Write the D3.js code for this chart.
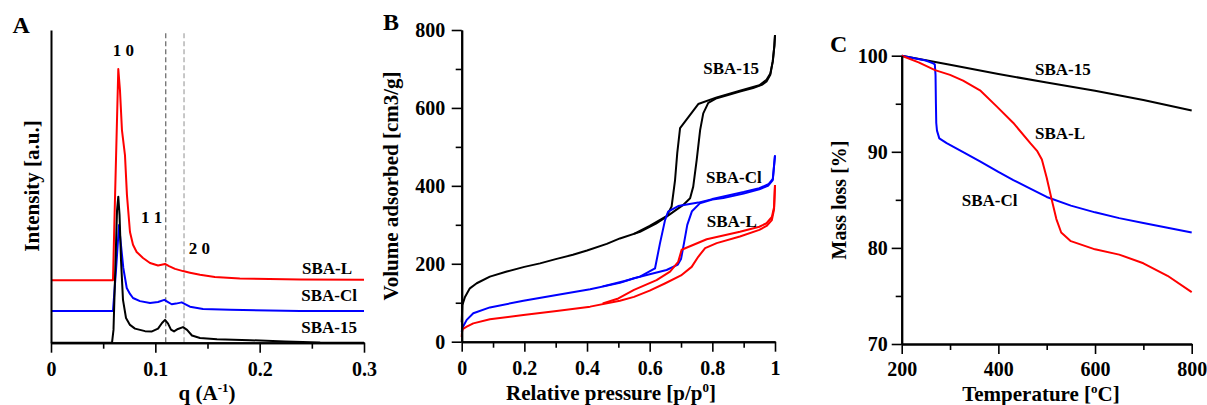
<!DOCTYPE html>
<html><head><meta charset="utf-8">
<script src="https://cdn.jsdelivr.net/npm/d3@7"></script>
<style>
body{margin:0;background:#fff}
svg text{font-family:"Liberation Serif","Times New Roman",serif;font-weight:bold;fill:#000}
</style>
</head><body>
<svg id="chart" width="1207" height="405"></svg>
<script>
// ---------- Panel A: SAXS (q, intensity a.u., curves offset) ----------
const saxsSBA15 = [[0,0],[0.0585,0],[0.0599,4.1],[0.0613,20],[0.0633,42.4],[0.0645,46.7],[0.0657,40.8],[0.0671,26.4],[0.069,13.7],[0.0719,7.9],[0.0757,5.7],[0.0805,4.5],[0.0901,3.7],[0.0968,3.6],[0.1026,4.5],[0.1064,6.3],[0.1093,7.3],[0.1122,6.1],[0.115,4.2],[0.1179,3.6],[0.1217,4.4],[0.1265,5.0],[0.1304,4.1],[0.1351,2.3],[0.1428,1.5],[0.1591,1.1],[0.1907,0.8],[0.2243,0.4],[0.258,0.06],[0.3,0]];
const saxsSBACl = [[0,10.1],[0.0594,10.1],[0.0623,23.2],[0.0652,37.6],[0.0668,32.2],[0.0693,23.9],[0.0726,17.5],[0.0757,15.6],[0.0786,14.3],[0.0853,13.3],[0.0949,12.7],[0.1026,13.0],[0.1086,13.7],[0.1122,13.0],[0.1157,12.3],[0.1198,12.5],[0.1253,12.9],[0.1294,12.2],[0.1332,11.5],[0.1457,10.8],[0.1716,10.5],[0.2387,10.1],[0.3,10.1]];
const saxsSBAL = [[0,20],[0.0594,20],[0.0613,45.6],[0.0645,87.5],[0.0661,80.8],[0.068,68],[0.0709,60],[0.0728,47.2],[0.0757,35.4],[0.0786,31.3],[0.0821,29.0],[0.0882,27.1],[0.0949,25.5],[0.1026,24.7],[0.1093,25.2],[0.1131,24.5],[0.1189,23.6],[0.1265,22.9],[0.1332,22.4],[0.1428,21.7],[0.157,21.0],[0.181,20.5],[0.2387,20.2],[0.3,20.1]];
const saxsPeakLines = [0.11, 0.1275];
const saxsXTicks = [0, 0.1, 0.2, 0.3];
const saxsXMinor = [0.05, 0.15, 0.25];
const saxsPeakLabels = [{t:"1 0",q:0.0693,i:91.8},{t:"1 1",q:0.0965,i:38.2},{t:"2 0",q:0.1423,i:28.4}];

// ---------- Panel B: N2 isotherms (p/p0, cm3/g) ----------
const isoSBA15Ads = [[0,50],[0.002,94],[0.0105,115],[0.026,137],[0.048,150],[0.09,167],[0.144,180],[0.2,192],[0.25,201],[0.3,212],[0.355,223],[0.4,234],[0.463,251],[0.505,265],[0.569,282],[0.62,303],[0.654,321],[0.707,351],[0.729,368],[0.739,398],[0.75,466],[0.761,543],[0.771,586],[0.787,613],[0.814,625],[0.85,633],[0.888,642],[0.93,651],[0.96,660],[0.973,668],[0.985,685],[0.993,720],[0.998,760],[1.0,787]];
const isoSBA15Des = [[1.0,787],[0.998,760],[0.993,720],[0.985,688],[0.973,672],[0.95,658],[0.888,644],[0.814,627],[0.755,610],[0.697,548],[0.688,484],[0.681,415],[0.67,347],[0.654,322],[0.6,297],[0.55,277]];
const isoSBAClAds = [[0,25],[0.002,35],[0.016,56],[0.037,73],[0.09,88],[0.197,105],[0.303,120],[0.41,134.5],[0.505,151],[0.55,163],[0.6,173],[0.654,184],[0.69,198],[0.7,212],[0.71,255],[0.72,300],[0.735,335],[0.76,355],[0.8,365],[0.835,369],[0.9,380],[0.95,391],[0.979,401],[0.993,415],[1.0,478]];
const isoSBAClDes = [[1.0,478],[0.993,418],[0.979,404],[0.95,394],[0.9,384],[0.8,366],[0.755,357],[0.691,348],[0.659,334],[0.649,312],[0.633,253],[0.617,188],[0.569,167],[0.52,156],[0.45,142]];
const isoSBALAds = [[0,12],[0.001,25],[0.003,32],[0.016,38.5],[0.037,47],[0.09,57.5],[0.197,68.5],[0.303,79],[0.41,90],[0.505,105],[0.55,115],[0.6,131],[0.65,150],[0.7,170],[0.734,192],[0.755,218],[0.777,240],[0.814,253],[0.888,270],[0.95,287],[0.973,297],[0.99,312],[0.997,340],[1.0,402]];
const isoSBALDes = [[1.0,402],[0.997,345],[0.99,320],[0.973,304],[0.95,295],[0.888,282],[0.782,263],[0.702,236],[0.691,205],[0.665,180],[0.622,158],[0.55,133],[0.5,111],[0.45,98]];
const isoXTicks = [0, 0.2, 0.4, 0.6, 0.8, 1];
const isoXMinor = [0.1, 0.3, 0.5, 0.7, 0.9];
const isoYTicks = [0, 200, 400, 600, 800];
const isoYMinor = [100, 300, 500, 700];

// ---------- Panel C: TGA (temperature °C, mass %) ----------
const tgaSBA15 = [[200,100],[300,99.05],[400,98.1],[500,97.2],[600,96.35],[700,95.4],[800,94.3]];
const tgaSBACl = [[200,100],[250,99.5],[265,99.2],[268.5,99.1],[270,98],[270.8,95],[271.5,93],[273,92.2],[277.8,91.4],[293,90.9],[330,89.9],[362,89.0],[400,87.9],[431,87.05],[465,86.2],[500,85.3],[550,84.4],[600,83.7],[650,83.1],[700,82.6],[750,82.1],[800,81.6]];
const tgaSBAL = [[200,100],[235,99.3],[269,98.5],[300,98.0],[327,97.4],[362,96.4],[397,94.7],[431,93.0],[466,90.9],[480,90.1],[490,89.2],[500,87.3],[510,85.1],[520,83.0],[530,81.6],[550,80.7],[600,79.85],[650,79.3],[700,78.4],[750,77.1],[800,75.4]];
const tgaXTicks = [200, 400, 600, 800];
const tgaXMinor = [300, 500, 700];
const tgaYTicks = [70, 80, 90, 100];
const tgaYMinor = [75, 85, 95];

const RED = "#ff0000", BLUE = "#0000ff", BLACK = "#000000";

const svg = d3.select("#chart");
const line = (xs, ys) => d3.line().x(d => xs(d[0])).y(d => ys(d[1]));

function styleAxis(g){
  g.select(".domain").attr("stroke","#000").attr("stroke-width",2);
  g.selectAll(".tick line").attr("stroke","#000").attr("stroke-width",1.6);
  g.selectAll(".tick text").attr("font-size",20).attr("font-family",null);
  g.attr("font-family",null);
}
function drawCurve(g, data, xs, ys, color){
  g.append("path").datum(data).attr("d", line(xs, ys))
    .attr("fill","none").attr("stroke",color).attr("stroke-width",2).attr("stroke-linejoin","round");
}
function label(g, txt, x, y, color, anchor, size){
  return g.append("text").attr("x",x).attr("y",y).attr("fill",color)
    .attr("text-anchor",anchor||"start").attr("font-size",size||17).text(txt);
}
const fmtP = d => (d===0||d===1) ? String(d) : d3.format(".1f")(d);

// ===== Panel A =====
{
  const x = d3.scaleLinear([0,0.3],[51,364]);
  const y = d3.scaleLinear([0,100],[342.7,30]);
  const g = svg.append("g");
  saxsPeakLines.forEach((q,i) => {
    g.append("line").attr("x1",x(q)).attr("x2",x(q)).attr("y1",y(99)).attr("y2",y(0))
      .attr("stroke", i===0 ? "#555" : "#9a9a9a").attr("stroke-width",1.1).attr("stroke-dasharray","5,3");
  });
  drawCurve(g, saxsSBAL, x, y, RED);
  drawCurve(g, saxsSBACl, x, y, BLUE);
  drawCurve(g, saxsSBA15, x, y, BLACK);
  g.append("g").attr("transform",`translate(0,${y(0)})`)
    .call(d3.axisBottom(x).tickValues(saxsXMinor).tickSize(6).tickSizeOuter(0).tickFormat(""))
    .call(styleAxis);
  g.append("g").attr("transform",`translate(0,${y(0)})`)
    .call(d3.axisBottom(x).tickValues(saxsXTicks).tickSize(10).tickPadding(9.5).tickSizeOuter(0).tickFormat(fmtP))
    .call(styleAxis);
  g.append("g").attr("transform",`translate(${x(0)},0)`)
    .call(d3.axisLeft(y).tickValues([]).tickSizeOuter(0))
    .call(styleAxis);
  saxsPeakLabels.forEach(p => label(g, p.t, x(p.q), y(p.i), BLACK, "middle"));
  label(g, "SBA-L", 352, 274, RED, "end");
  label(g, "SBA-Cl", 357, 300.7, BLUE, "end");
  label(g, "SBA-15", 357, 333.3, BLACK, "end");
  const t = g.append("text").attr("x",207).attr("y",400).attr("text-anchor","middle").attr("font-size",21);
  t.append("tspan").text("q (A");
  t.append("tspan").attr("font-size",13).attr("dy",-8).text("-1");
  t.append("tspan").attr("dy",8).text(")");
  g.append("text").attr("transform","translate(39,186) rotate(-90)").attr("text-anchor","middle")
    .attr("font-size",21).text("Intensity [a.u.]");
  label(g, "A", 12.5, 33.3, BLACK, "start", 24);
}

// ===== Panel B =====
{
  const x = d3.scaleLinear([0,1],[461.7,775]);
  const y = d3.scaleLinear([0,800],[341.7,30]);
  const g = svg.append("g");
  drawCurve(g, isoSBA15Ads, x, y, BLACK);
  drawCurve(g, isoSBA15Des, x, y, BLACK);
  drawCurve(g, isoSBAClAds, x, y, BLUE);
  drawCurve(g, isoSBAClDes, x, y, BLUE);
  drawCurve(g, isoSBALAds, x, y, RED);
  drawCurve(g, isoSBALDes, x, y, RED);
  g.append("g").attr("transform",`translate(0,${y(0)})`)
    .call(d3.axisBottom(x).tickValues(isoXMinor).tickSize(6).tickSizeOuter(0).tickFormat(""))
    .call(styleAxis);
  g.append("g").attr("transform",`translate(0,${y(0)})`)
    .call(d3.axisBottom(x).tickValues(isoXTicks).tickSize(10).tickPadding(9.5).tickSizeOuter(0).tickFormat(fmtP))
    .call(styleAxis);
  g.append("g").attr("transform",`translate(${x(0)},0)`)
    .call(d3.axisLeft(y).tickValues(isoYMinor).tickSize(6).tickSizeOuter(0).tickFormat(""))
    .call(styleAxis);
  g.append("g").attr("transform",`translate(${x(0)},0)`)
    .call(d3.axisLeft(y).tickValues(isoYTicks).tickSize(10).tickPadding(6.5).tickSizeOuter(0))
    .call(styleAxis);
  label(g, "SBA-15", 703.3, 74, BLACK);
  label(g, "SBA-Cl", 706, 183.3, BLUE);
  label(g, "SBA-L", 706.7, 227.3, RED);
  const t = g.append("text").attr("x",611).attr("y",400).attr("text-anchor","middle").attr("font-size",21);
  t.append("tspan").text("Relative pressure [p/p");
  t.append("tspan").attr("font-size",13).attr("dy",-8).text("0");
  t.append("tspan").attr("dy",8).text("]");
  g.append("text").attr("transform","translate(398,186) rotate(-90)").attr("text-anchor","middle")
    .attr("font-size",21).text("Volume adsorbed [cm3/g]");
  label(g, "B", 383, 30, BLACK, "start", 24);
}

// ===== Panel C =====
{
  const x = d3.scaleLinear([200,800],[901.7,1191.7]);
  const y = d3.scaleLinear([70,100],[344,55.7]);
  const g = svg.append("g");
  drawCurve(g, tgaSBA15, x, y, BLACK);
  drawCurve(g, tgaSBACl, x, y, BLUE);
  drawCurve(g, tgaSBAL, x, y, RED);
  g.append("g").attr("transform",`translate(0,${y(70)})`)
    .call(d3.axisBottom(x).tickValues(tgaXMinor).tickSize(6).tickSizeOuter(0).tickFormat(""))
    .call(styleAxis);
  g.append("g").attr("transform",`translate(0,${y(70)})`)
    .call(d3.axisBottom(x).tickValues(tgaXTicks).tickSize(10).tickPadding(8).tickSizeOuter(0))
    .call(styleAxis);
  g.append("g").attr("transform",`translate(${x(200)},0)`)
    .call(d3.axisLeft(y).tickValues(tgaYMinor).tickSize(6).tickSizeOuter(0).tickFormat(""))
    .call(styleAxis);
  g.append("g").attr("transform",`translate(${x(200)},0)`)
    .call(d3.axisLeft(y).tickValues(tgaYTicks).tickSize(10).tickPadding(4).tickSizeOuter(0))
    .call(styleAxis);
  label(g, "SBA-15", 1035, 75, BLACK);
  label(g, "SBA-L", 1035, 139.3, RED);
  label(g, "SBA-Cl", 961.7, 205.7, BLUE);
  const t = g.append("text").attr("x",1041).attr("y",400.5).attr("text-anchor","middle").attr("font-size",21);
  t.append("tspan").text("Temperature [");
  t.append("tspan").attr("font-size",13).attr("dy",-8).text("o");
  t.append("tspan").attr("dy",8).text("C]");
  g.append("text").attr("transform","translate(845.5,200) rotate(-90)").attr("text-anchor","middle")
    .attr("font-size",20).text("Mass loss [%]");
  label(g, "C", 830, 51.7, BLACK, "start", 24);
}
</script>
</body></html>
